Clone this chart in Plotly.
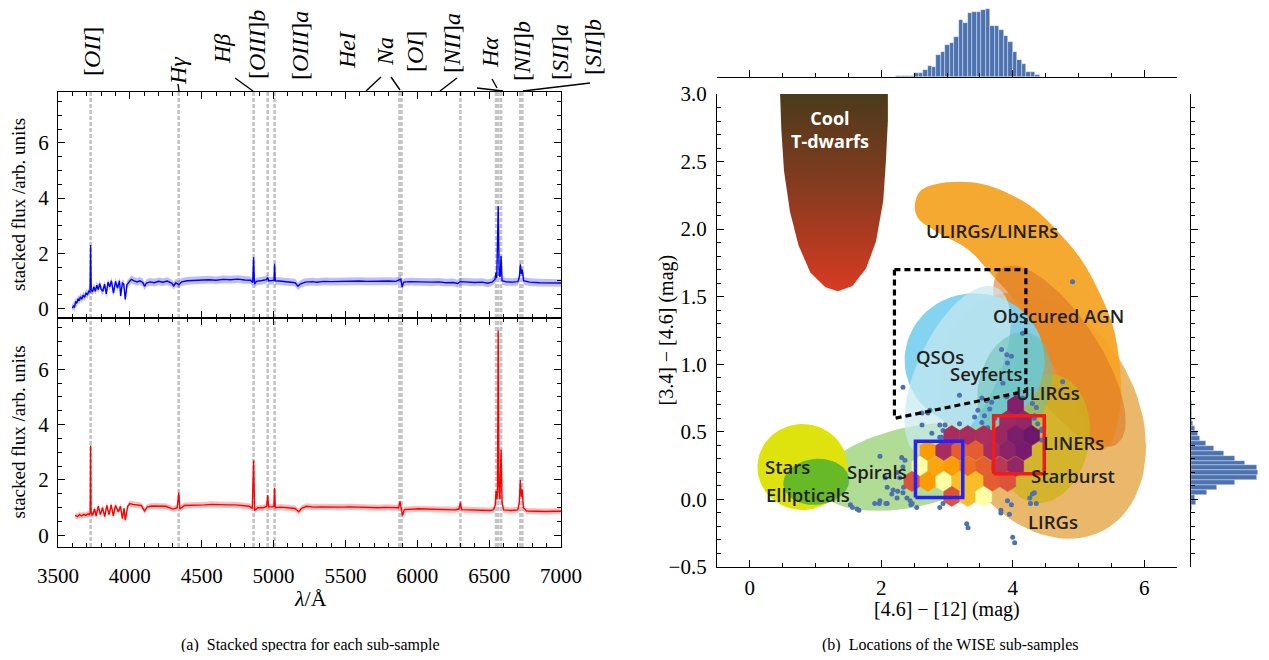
import numpy as np
import plotly.graph_objects as go
from plotly.colors import sample_colorscale

SERIF = "Liberation Serif, Times New Roman, Times, serif"
SANS = "Open Sans, Noto Sans, sans-serif"

# ------------------------------------------------------------------ data: spectra
blue_spectrum = [
    (3600, 0.00), (3608, 0.10), (3615, 0.03), (3622, 0.25), (3630, 0.18), (3640, 0.35), (3648, 0.27),
    (3656, 0.42), (3665, 0.33), (3675, 0.48), (3685, 0.40), (3695, 0.55), (3705, 0.50), (3715, 0.62),
    (3723, 0.60), (3727, 2.30), (3731, 0.68), (3740, 0.60), (3750, 0.78), (3760, 0.62), (3770, 0.84),
    (3780, 0.68), (3790, 0.90), (3800, 0.70), (3812, 0.62), (3824, 0.88), (3836, 0.52), (3848, 0.95),
    (3860, 0.78), (3872, 1.00), (3886, 0.55), (3900, 0.98), (3914, 0.74), (3928, 1.00), (3936, 0.45),
    (3948, 0.92), (3958, 0.88), (3968, 0.32), (3980, 0.86), (3995, 0.98), (4010, 1.05), (4030, 1.00),
    (4050, 0.96), (4070, 1.00), (4090, 0.94), (4102, 0.80), (4115, 0.92), (4140, 0.96), (4170, 0.93),
    (4200, 0.98), (4230, 0.95), (4260, 0.99), (4290, 0.92), (4305, 0.82), (4320, 0.93), (4340, 0.86),
    (4360, 0.96), (4400, 1.00), (4450, 1.01), (4500, 1.02), (4550, 1.04), (4600, 1.02), (4650, 1.05),
    (4700, 1.04), (4750, 1.06), (4800, 1.03), (4840, 1.02), (4855, 0.94), (4861, 1.85), (4867, 0.88),
    (4880, 0.98), (4920, 1.01), (4950, 1.04), (4959, 1.12), (4966, 1.00), (4990, 1.01), (5003, 1.02),
    (5007, 1.62), (5012, 1.00), (5040, 0.99), (5080, 0.96), (5120, 0.95), (5150, 0.93), (5170, 0.80),
    (5185, 0.88), (5220, 0.95), (5270, 0.97), (5300, 0.95), (5350, 0.98), (5400, 0.97), (5450, 0.98),
    (5500, 0.99), (5550, 0.98), (5600, 0.99), (5650, 0.98), (5700, 0.99), (5750, 1.00), (5800, 0.99),
    (5850, 0.98), (5876, 1.02), (5885, 1.06), (5895, 0.78), (5905, 0.95), (5950, 0.97), (6000, 0.96),
    (6050, 0.95), (6100, 0.95), (6150, 0.96), (6200, 0.93), (6250, 0.94), (6280, 0.90), (6300, 0.97),
    (6320, 0.96), (6350, 0.95), (6400, 0.94), (6450, 0.95), (6490, 0.91), (6520, 0.95), (6540, 1.05),
    (6548, 1.30), (6553, 1.10), (6563, 3.70), (6570, 1.20), (6577, 1.15), (6583, 1.90), (6590, 1.00),
    (6620, 0.96), (6660, 0.95), (6700, 0.97), (6711, 1.15), (6717, 1.60), (6724, 1.25), (6731, 1.40),
    (6740, 1.00), (6780, 0.95), (6850, 0.93), (6900, 0.92), (6950, 0.93), (7000, 0.92),
]
red_spectrum = [
    (3620, 0.72), (3635, 0.68), (3650, 0.75), (3665, 0.70), (3680, 0.76), (3695, 0.72), (3710, 0.78),
    (3720, 0.75), (3724, 0.80), (3727, 3.25), (3730, 0.85), (3740, 0.72), (3755, 0.95), (3765, 0.70),
    (3780, 1.05), (3795, 0.75), (3810, 1.00), (3825, 0.68), (3840, 1.08), (3855, 0.75), (3870, 1.10),
    (3885, 0.70), (3900, 1.08), (3920, 0.85), (3935, 1.05), (3948, 0.60), (3960, 0.98), (3968, 0.55),
    (3985, 1.05), (4000, 1.15), (4020, 1.12), (4050, 1.10), (4080, 1.08), (4102, 0.88), (4120, 1.02),
    (4150, 1.06), (4200, 1.05), (4250, 1.05), (4300, 0.95), (4330, 1.00), (4340, 1.55), (4348, 0.95),
    (4380, 1.08), (4420, 1.08), (4470, 1.10), (4520, 1.10), (4570, 1.12), (4620, 1.10), (4680, 1.10),
    (4730, 1.10), (4780, 1.08), (4830, 1.05), (4852, 0.98), (4861, 2.70), (4868, 0.90), (4890, 1.00),
    (4930, 1.00), (4952, 1.05), (4959, 1.45), (4965, 1.03), (4990, 1.03), (5002, 1.05), (5007, 1.72),
    (5012, 1.00), (5050, 1.02), (5100, 1.00), (5150, 0.97), (5175, 0.85), (5195, 0.98), (5230, 1.05),
    (5280, 1.02), (5330, 1.03), (5380, 1.02), (5430, 1.03), (5480, 1.02), (5530, 1.03), (5580, 1.02),
    (5630, 1.01), (5680, 1.01), (5730, 1.00), (5780, 1.01), (5830, 0.99), (5870, 1.00), (5880, 1.22),
    (5890, 0.95), (5897, 0.72), (5910, 0.93), (5960, 0.95), (6010, 0.96), (6060, 0.95), (6110, 0.94),
    (6160, 0.95), (6210, 0.93), (6260, 0.92), (6290, 0.95), (6300, 1.18), (6308, 0.93), (6350, 0.92),
    (6400, 0.91), (6450, 0.92), (6500, 0.90), (6530, 0.92), (6543, 1.10), (6548, 1.60), (6553, 1.30),
    (6558, 1.50), (6563, 7.40), (6568, 1.80), (6575, 1.30), (6583, 3.10), (6590, 1.20), (6600, 0.92),
    (6650, 0.90), (6700, 0.92), (6710, 1.20), (6717, 2.00), (6724, 1.40), (6731, 1.65), (6738, 1.00),
    (6760, 0.88), (6800, 0.87), (6850, 0.88), (6900, 0.86), (6950, 0.87), (7000, 0.87),
]
blue_err = 0.14
red_err = 0.11

line_waves = [3727, 4340, 4861, 4959, 5007, 5876, 5890, 6300, 6548, 6563, 6583, 6717, 6731]
line_labels = ["[<i>OII</i>]", "<i>Hγ</i>", "<i>Hβ</i>", "[<i>OIII</i>]<i>b</i>", "[<i>OIII</i>]<i>a</i>",
               "<i>HeI</i>", "<i>Na</i>", "[<i>OI</i>]", "[<i>NII</i>]<i>a</i>", "<i>Hα</i>",
               "[<i>NII</i>]<i>b</i>", "[<i>SII</i>]<i>a</i>", "[<i>SII</i>]<i>b</i>"]
# label placement (page pixels)
label_px_x = [92, 178, 222, 257, 300, 347, 385, 415, 452, 490, 522, 560, 593]
label_px_y = [52, 71, 49, 45, 46, 50, 52, 52, 43, 52, 51, 52, 47]
connector_px = [(178, 84, 179, 91), (235, 78, 253, 91), (366, 91, 381, 77), (391, 77, 400, 90),
                (440, 91, 457, 78), (492, 79, 497, 88), (477, 88, 503, 91), (523, 91, 590, 83)]

# ------------------------------------------------------------------ data: WISE colour-colour
top_hist_start, top_hist_width = 2.226, 0.0682
top_hist_counts = [2, 3, 5, 5, 15, 15, 23, 38, 34, 73, 83, 106, 115, 133, 190, 182,
                   216, 218, 217, 224, 230, 170, 172, 158, 137, 118, 84, 58, 44, 18, 17, 7]
right_hist_start, right_hist_width = -0.081, 0.0369
right_hist_counts = [5, 16, 12, 55, 88, 148, 220, 226, 222, 180, 148, 110, 78, 50, 30, 22, 12, 8, 5, 3, 2, 2]

hex_x = [4.044,
         3.923, 4.165,
         3.073, 3.316, 3.558, 3.801, 4.044, 4.287,
         2.709, 2.951, 3.194, 3.437, 3.680, 3.923, 4.165,
         2.587, 2.830, 3.073, 3.316, 3.558, 3.801, 4.044,
         2.466, 2.709, 2.951, 3.194, 3.437, 3.680, 3.923,
         3.073, 3.316, 3.558]
hex_y = [0.694,
         0.583, 0.583,
         0.473, 0.473, 0.473, 0.473, 0.473, 0.473,
         0.362, 0.362, 0.362, 0.362, 0.362, 0.362, 0.362,
         0.244, 0.244, 0.244, 0.244, 0.244, 0.244, 0.244,
         0.133, 0.133, 0.133, 0.133, 0.133, 0.133, 0.133,
         0.022, 0.022, 0.022]
hex_val = [0.36,
           0.42, 0.40,
           0.45, 0.45, 0.46, 0.42, 0.34, 0.30,
           0.78, 0.45, 0.63, 0.63, 0.45, 0.38, 0.33,
           1.00, 0.80, 0.78, 0.68, 0.64, 0.50, 0.40,
           0.60, 0.78, 1.00, 0.85, 0.85, 0.63, 0.60,
           0.60, 0.85, 1.00]

dots_x = [4.91, 2.33, 3.83, 3.91, 3.98, 3.92, 4.15, 3.85, 3.19, 4.76, 3.53, 3.60, 3.68, 3.91, 4.06, 4.15,
          2.71, 3.47, 3.57, 3.65, 3.42, 4.30, 4.36, 2.97, 3.07, 3.19, 3.30, 3.42, 3.53, 3.62, 3.73,
          4.33, 4.38, 4.44, 4.36, 2.62, 2.77, 2.89, 2.62, 2.74, 2.89, 2.94, 2.92, 1.98, 2.31, 2.36,
          2.33, 2.24, 2.28, 2.39, 2.06, 2.09, 2.18, 2.16, 2.24, 2.33, 2.39, 2.44, 1.98, 2.09, 1.53,
          1.63, 1.90, 2.47, 2.54, 2.89, 2.94, 3.30, 3.82, 4.00, 4.26, 4.33, 4.36, 4.18, 4.29, 4.33,
          4.44, 4.44, 3.92, 3.98, 1.56, 1.66, 2.25, 2.34, 3.32, 3.82, 3.95, 4.03, 4.27, 4.30, 2.07,
          1.97, 2.45]
dots_y = [1.61, 0.83, 1.11, 1.07, 1.06, 1.01, 1.23, 0.86, 0.77, 0.87, 0.75, 0.73, 0.72, 0.76, 0.78, 0.75,
          0.64, 0.66, 0.62, 0.67, 0.61, 0.71, 0.68, 0.55, 0.51, 0.56, 0.52, 0.49, 0.57, 0.53, 0.60,
          0.62, 0.56, 0.51, 0.46, 0.55, 0.49, 0.46, 0.64, 0.66, 0.55, 0.51, 0.46, 0.32, 0.31, 0.29,
          0.24, 0.20, 0.16, 0.14, 0.16, 0.09, 0.07, 0.04, 0.01, 0.05, 0.01, -0.01, -0.01, -0.03, -0.04,
          -0.07, -0.03, -0.03, -0.06, -0.06, -0.03, -0.18, -0.08, -0.28, 0.01, 0.05, -0.03, 0.57, 0.53, 0.60,
          0.52, 0.44, -0.01, -0.04, -0.06, -0.08, 0.06, 0.09, -0.21, -0.10, -0.11, -0.32, -0.03, 0.04, -0.03,
          -0.03, -0.04]

# literature regions: centre (data), semi-axes (px), angle (deg), colour
ellipse_names = ["LIRGs", "Spirals", "Stars", "Ellipticals", "ObscuredAGN", "ULIRGs", "QSOs", "SeyfertsA", "SeyfertsB"]
ellipse_cx = [4.45, 2.47, 0.80, 1.01, 4.71, 4.48, 3.42, 3.16, 4.03]
ellipse_cy = [0.62, 0.24, 0.24, 0.13, 1.06, 0.45, 1.03, 0.95, 0.84]
ellipse_a = [130, 95, 45, 33, 105, 65, 70, 92, 55]
ellipse_b = [95, 40, 43, 23, 40, 45, 67, 40, 36]
ellipse_ang = [-62, 12, 0, 5, -57, 80, 0, 65, 75]
ellipse_col = ["rgba(232,180,98,0.95)", "rgba(163,214,132,0.85)", "rgba(222,227,14,1)",
               "rgba(84,178,42,0.85)", "rgba(222,118,38,0.6)", "rgba(206,178,30,0.8)",
               "rgba(125,209,240,0.95)", "rgba(200,234,240,0.7)", "rgba(100,190,170,0.5)"]

ulirg_liner_x = [2.51, 2.59, 2.81, 3.19, 3.57, 3.95, 4.33, 4.71, 5.05, 5.32, 5.52, 5.62, 5.65, 5.59, 5.47,
                 5.32, 5.17, 5.02, 4.79, 4.48, 4.10, 3.65, 3.32, 2.81, 2.56]
ulirg_liner_y = [2.17, 2.28, 2.33, 2.35, 2.33, 2.26, 2.15, 1.97, 1.77, 1.53, 1.29, 1.03, 0.77, 0.55, 0.40,
                 0.36, 0.44, 0.62, 0.84, 1.10, 1.43, 1.68, 1.85, 1.99, 2.08]
tdwarf_x = [0.46, 0.48, 0.52, 0.61, 0.74, 0.92, 1.15, 1.34, 1.56, 1.77, 1.92, 2.03, 2.07, 2.10, 2.10]
tdwarf_y = [3.00, 2.73, 2.43, 2.13, 1.88, 1.68, 1.57, 1.54, 1.58, 1.71, 1.91, 2.21, 2.50, 2.80, 3.00]

agn_box_x = [2.2, 4.2, 4.2, 2.2, 2.2]
agn_box_y = [1.7, 1.7, 0.8, 0.6, 1.7]
blue_box_x = [2.52, 3.24]
blue_box_y = [0.015, 0.43]
red_box_x = [3.71, 4.48]
red_box_y = [0.19, 0.62]

region_labels = ["Stars", "Ellipticals", "Spirals", "QSOs", "Seyferts", "ULIRGs", "LINERs",
                 "Starburst", "LIRGs", "Obscured AGN", "ULIRGs/LINERs"]
region_label_x = [0.57, 0.89, 1.93, 2.89, 3.60, 4.53, 4.92, 4.91, 4.61, 4.69, 3.68]
region_label_y = [0.24, 0.04, 0.21, 1.06, 0.93, 0.79, 0.42, 0.18, -0.16, 1.36, 1.99]

# ------------------------------------------------------------------ layout geometry (page pixels)
OFF = 8                       # default body margin of the html page
W_FIG, H_FIG = 1253, 644
L_X = (58, 561)
TOP_Y = (92, 318)
BOT_Y = (318, 547)
R_X = (717, 1177)
R_Y = (94, 567)
TH_Y = (8, 77)
RH_X = (1191, 1261)
XR_R = (-0.5, 6.5)
YR_R = (-0.5, 3.0)
SX = (R_X[1] - R_X[0]) / (XR_R[1] - XR_R[0])
SY = (R_Y[1] - R_Y[0]) / (YR_R[1] - YR_R[0])


def px(x):
    return (x - OFF) / W_FIG


def py(y):
    return 1 - (y - OFF) / H_FIG


def dom_x(a):
    return [px(a[0]), px(a[1])]


def dom_y(a):
    return [py(a[1]), py(a[0])]


def ellipse(cx, cy, a, b, ang, n=80):
    t = np.linspace(0, 2 * np.pi, n)
    ex, ey = a * np.cos(t), b * np.sin(t)
    th = np.deg2rad(ang)
    rx = ex * np.cos(th) - ey * np.sin(th)
    ry = ex * np.sin(th) + ey * np.cos(th)
    return cx + rx / SX, cy + ry / SY


fig = go.Figure()

# ---------------- spectra
for spec, err, col, band, xa, ya in [(blue_spectrum, blue_err, "#0000ff", "rgba(0,0,255,0.25)", "x2", "y2"),
                                     (red_spectrum, red_err, "#ff0000", "rgba(255,0,0,0.25)", "x", "y")]:
    w = np.array([p[0] for p in spec], float)
    f = np.array([p[1] for p in spec], float)
    fig.add_trace(go.Scatter(x=w, y=f + err, mode="lines", line=dict(width=0), xaxis=xa, yaxis=ya,
                             showlegend=False, hoverinfo="skip"))
    fig.add_trace(go.Scatter(x=w, y=f - err, mode="lines", line=dict(width=0), fill="tonexty",
                             fillcolor=band, xaxis=xa, yaxis=ya, showlegend=False, hoverinfo="skip"))
    fig.add_trace(go.Scatter(x=w, y=f, mode="lines", line=dict(color=col, width=1.4), xaxis=xa, yaxis=ya,
                             showlegend=False))

shapes = []
for wv in line_waves:
    for xr, yr in [("x", "y domain"), ("x2", "y2 domain")]:
        shapes.append(dict(type="line", xref=xr, yref=yr, x0=wv, x1=wv, y0=0, y1=1, layer="below",
                           line=dict(color="#c4c4c4", width=2.6, dash="4px,2px")))
for (x0, y0, x1, y1) in connector_px:
    shapes.append(dict(type="line", xref="paper", yref="paper", x0=px(x0), y0=py(y0), x1=px(x1), y1=py(y1),
                       line=dict(color="black", width=1.4)))

# ---------------- regions
fig.add_trace(go.Scatter(x=tdwarf_x, y=tdwarf_y, mode="lines", fill="toself", line=dict(width=0),
                         fillgradient=dict(type="vertical", colorscale=[[0, "#d83b22"], [0.5, "#8a3b1f"], [1, "#4a3b1b"]]),
                         xaxis="x3", yaxis="y3", showlegend=False, hoverinfo="skip"))


def add_ellipse(i):
    ex, ey = ellipse(ellipse_cx[i], ellipse_cy[i], ellipse_a[i], ellipse_b[i], ellipse_ang[i])
    fig.add_trace(go.Scatter(x=ex, y=ey, mode="lines", fill="toself", fillcolor=ellipse_col[i],
                             line=dict(width=0), xaxis="x3", yaxis="y3", showlegend=False, hoverinfo="skip"))


add_ellipse(0)  # LIRGs
add_ellipse(1)  # Spirals
add_ellipse(2)  # Stars
add_ellipse(3)  # Ellipticals
fig.add_trace(go.Scatter(x=ulirg_liner_x + ulirg_liner_x[:1], y=ulirg_liner_y + ulirg_liner_y[:1], mode="lines",
                         fill="toself", fillcolor="rgba(245,164,38,0.95)", line=dict(width=0, shape="spline"),
                         xaxis="x3", yaxis="y3", showlegend=False, hoverinfo="skip"))
add_ellipse(4)  # Obscured AGN
add_ellipse(5)  # ULIRGs
add_ellipse(6)  # QSOs
add_ellipse(7)  # Seyferts light
add_ellipse(8)  # Seyferts teal

# ---------------- points and hexbins
fig.add_trace(go.Scatter(x=dots_x, y=dots_y, mode="markers", marker=dict(color="#4c72b0", size=5),
                         xaxis="x3", yaxis="y3", showlegend=False))
HX = 0.1214
HY = 0.0746
hex_cols = sample_colorscale("Inferno", hex_val)
for cx, cy, c in zip(hex_x, hex_y, hex_cols):
    vx = [cx, cx + HX, cx + HX, cx, cx - HX, cx - HX, cx]
    vy = [cy + HY, cy + HY / 2, cy - HY / 2, cy - HY, cy - HY / 2, cy + HY / 2, cy + HY]
    fig.add_trace(go.Scatter(x=vx, y=vy, mode="lines", fill="toself", fillcolor=c, line=dict(width=0.6, color=c),
                             xaxis="x3", yaxis="y3", showlegend=False, hoverinfo="skip"))

fig.add_trace(go.Scatter(x=agn_box_x, y=agn_box_y, mode="lines", line=dict(color="black", width=3.2, dash="6px,4px"),
                         xaxis="x3", yaxis="y3", showlegend=False))
for bx, by, col in [(blue_box_x, blue_box_y, "#2222ff"), (red_box_x, red_box_y, "#ee1c1c")]:
    fig.add_trace(go.Scatter(x=[bx[0], bx[1], bx[1], bx[0], bx[0]], y=[by[0], by[0], by[1], by[1], by[0]],
                             mode="lines", line=dict(color=col, width=3.5), xaxis="x3", yaxis="y3",
                             showlegend=False))

# ---------------- marginal histograms
th_centers = [top_hist_start + top_hist_width * (i + 0.5) for i in range(len(top_hist_counts))]
fig.add_trace(go.Bar(x=th_centers, y=top_hist_counts, width=top_hist_width, xaxis="x4", yaxis="y4",
                     marker=dict(color="#4c72b0", line=dict(color="rgba(255,255,255,0.6)", width=0.6)),
                     showlegend=False))
rh_centers = [right_hist_start + right_hist_width * (i + 0.5) for i in range(len(right_hist_counts))]
fig.add_trace(go.Bar(y=rh_centers, x=right_hist_counts, width=right_hist_width, orientation="h",
                     xaxis="x5", yaxis="y5",
                     marker=dict(color="#4c72b0", line=dict(color="rgba(255,255,255,0.6)", width=0.6)),
                     showlegend=False))

# ---------------- axes
TICKFONT = dict(family=SERIF, size=21, color="black")
base = dict(showline=True, linecolor="black", linewidth=1.3, ticks="inside", tickcolor="black", tickwidth=1.3,
            ticklen=7, showgrid=False, zeroline=False)


def minor(d):
    return dict(ticks="inside", dtick=d, ticklen=4, tickcolor="black", tickwidth=1.1, showgrid=False)


layout = dict(
    width=W_FIG, height=H_FIG, margin=dict(l=0, r=0, t=0, b=0, pad=0), template="none",
    font=dict(family=SERIF, size=21, color="black"),
    plot_bgcolor="white", paper_bgcolor="white", showlegend=False, bargap=0,
    xaxis=dict(base, domain=dom_x(L_X), anchor="y", range=[3500, 7000], tick0=3500, dtick=500,
               minor=minor(100), mirror="allticks", ticklabelstandoff=10),
    yaxis=dict(base, domain=dom_y(BOT_Y), anchor="x", range=[-0.42, 7.85], tick0=0, dtick=2,
               minor=minor(0.5), mirror="allticks", ticklabelstandoff=4),
    xaxis2=dict(base, domain=dom_x(L_X), anchor="y2", matches="x", showticklabels=False,
                tick0=3500, dtick=500, minor=minor(100), mirror="allticks"),
    yaxis2=dict(base, domain=dom_y(TOP_Y), anchor="x2", range=[-0.35, 7.85], tick0=0, dtick=2,
                minor=minor(0.5), mirror="allticks", ticklabelstandoff=4),
    xaxis3=dict(base, domain=dom_x(R_X), anchor="y3", range=list(XR_R), tick0=0, dtick=2,
                minor=minor(0.5), ticklabelstandoff=2),
    yaxis3=dict(base, domain=dom_y(R_Y), anchor="x3", range=list(YR_R), tick0=0, dtick=0.5,
                tickformat=".1f", minor=minor(0.1), ticklabelstandoff=5),
    xaxis4=dict(base, domain=dom_x(R_X), anchor="y4", matches="x3", showticklabels=False, tick0=0, dtick=2,
                minor=minor(0.5)),
    yaxis4=dict(domain=dom_y(TH_Y), anchor="x4", range=[0, 232], visible=False),
    xaxis5=dict(domain=dom_x(RH_X), anchor="y5", range=[0, 235], visible=False),
    yaxis5=dict(base, domain=dom_y(R_Y), anchor="x5", matches="y3", showticklabels=False, tick0=0, dtick=0.5,
                minor=minor(0.1)),
    shapes=shapes,
)

ann = []
for txt, lx, ly in zip(line_labels, label_px_x, label_px_y):
    ann.append(dict(text=txt, x=px(lx), y=py(ly), xref="paper", yref="paper", showarrow=False, textangle=-90,
                    xanchor="center", yanchor="middle", font=dict(family=SERIF, size=24, color="black")))
ytitle = "stacked flux /arb. units"
for cy in [(TOP_Y[0] + TOP_Y[1]) / 2, (BOT_Y[0] + BOT_Y[1]) / 2]:
    ann.append(dict(text=ytitle, x=px(18), y=py(cy), xref="paper", yref="paper", showarrow=False,
                    textangle=-90, xanchor="center", yanchor="middle",
                    font=dict(family=SERIF, size=19, color="black")))
ann.append(dict(text="<i>λ</i>/Å", x=px(310), y=py(598), xref="paper", yref="paper", showarrow=False,
                xanchor="center", yanchor="middle", font=dict(family=SERIF, size=22, color="black")))
ann.append(dict(text="(a)  Stacked spectra for each sub-sample", x=px(310), y=py(645), xref="paper", yref="paper",
                showarrow=False, xanchor="center", yanchor="middle", font=dict(family=SERIF, size=16, color="black")))
ann.append(dict(text="(b)  Locations of the WISE sub-samples", x=px(950), y=py(645), xref="paper", yref="paper",
                showarrow=False, xanchor="center", yanchor="middle", font=dict(family=SERIF, size=16, color="black")))
ann.append(dict(text="[4.6] − [12] (mag)", x=px(947), y=py(609), xref="paper", yref="paper", showarrow=False,
                xanchor="center", yanchor="middle", font=dict(family=SERIF, size=20, color="black")))
ann.append(dict(text="[3.4] − [4.6] (mag)", x=px(666), y=py((R_Y[0] + R_Y[1]) / 2), xref="paper", yref="paper",
                showarrow=False, textangle=-90, xanchor="center", yanchor="middle",
                font=dict(family=SERIF, size=20, color="black")))
for t, x, y in zip(region_labels, region_label_x, region_label_y):
    ann.append(dict(text=t, x=x, y=y, xref="x3", yref="y3", showarrow=False, xanchor="center", yanchor="middle",
                    font=dict(family=SANS, size=18.5, color="#231f20", weight=600)))
ann.append(dict(text="Cool<br>T-dwarfs", x=1.22, y=2.74, xref="x3", yref="y3", showarrow=False,
                xanchor="center", yanchor="middle", font=dict(family=SANS, size=18, color="white", weight=700)))
layout["annotations"] = ann

fig.update_layout(**layout)
fig.update_xaxes(tickfont=TICKFONT)
fig.update_yaxes(tickfont=TICKFONT)
fig.write_html("out.html")
